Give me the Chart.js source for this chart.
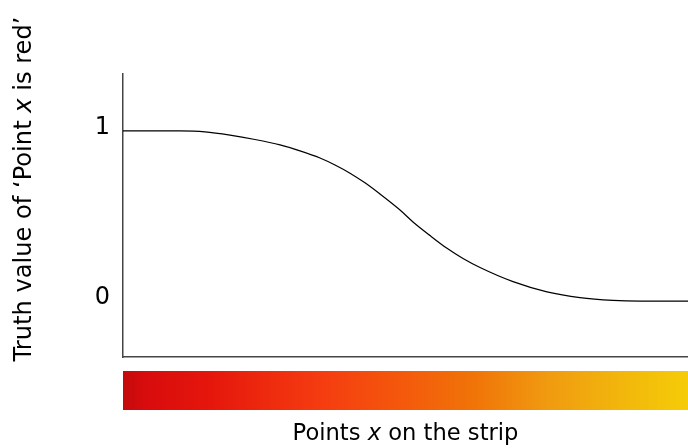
<!DOCTYPE html>
<html>
<head>
<meta charset="utf-8">
<script src="https://cdn.jsdelivr.net/npm/chart.js@4.4.0/dist/chart.umd.min.js"></script>
<style>
  html, body { margin: 0; padding: 0; background: #fff; }
  #wrap { width: 688px; height: 448px; position: relative; }
</style>
</head>
<body>
<div id="wrap"><canvas id="c" width="688" height="448"></canvas></div>
<script>
// Position along the strip (0 = left end, 100 = right end)
const stripPos = [0, 10.09, 14.51, 18.94, 23.36, 27.79, 31.33, 34.87, 37.52, 40.18, 42.83, 45.49, 49.03, 51.33, 54.34, 57.35, 60.18, 63.19, 69.03, 75.04, 80.88, 86.73, 91.5, 100];
// Truth value of 'Point x is red'
const truthValue = [1, 1, 0.995, 0.976, 0.95, 0.918, 0.883, 0.841, 0.80, 0.752, 0.695, 0.629, 0.535, 0.465, 0.385, 0.31, 0.25, 0.197, 0.114, 0.054, 0.02, 0.004, 0, 0];
// Tick labels on the y axis
const yTickValues = [0, 1];
const yTickLabels = ['0', '1'];
// Colour strip stops (fraction along strip, colour)
const stripStops = [0, 0.04, 0.15, 0.35, 0.5, 0.62, 0.75, 0.88, 1];
const stripColors = ['#c40a0c', '#d80c0c', '#e5160c', '#f53c10', '#f45a0c', '#f07408', '#f09a10', '#f2b60c', '#f5cc08'];
// Axis titles (segments: text, italic?)
const xTitle = [['Points ', false], ['x', true], [' on the strip', false]];
const yTitle = [['Truth value of \u2018Point ', false], ['x', true], [' is red\u2019', false]];

const FONT = '"DejaVu Sans", sans-serif';

function drawTitle(ctx, segs, size) {
  let total = 0;
  const widths = segs.map(([t, it]) => {
    ctx.font = (it ? 'italic ' : '') + size + 'px ' + FONT;
    const w = ctx.measureText(t).width; total += w; return w;
  });
  let x = -total / 2;
  segs.forEach(([t, it], i) => {
    ctx.font = (it ? 'italic ' : '') + size + 'px ' + FONT;
    ctx.fillText(t, x, 0);
    x += widths[i];
  });
  return total;
}
function fitSize(ctx, segs, target) {
  let total = 0;
  segs.forEach(([t, it]) => {
    ctx.font = (it ? 'italic ' : '') + '20px ' + FONT;
    total += ctx.measureText(t).width;
  });
  return 20 * target / total;
}

const decor = {
  id: 'decor',
  afterDraw(chart) {
    const ctx = chart.ctx;
    const xs = chart.scales.x;
    const left = xs.getPixelForValue(0), right = xs.getPixelForValue(100);
    // colour strip
    const g = ctx.createLinearGradient(left, 0, right, 0);
    stripStops.forEach((s, i) => g.addColorStop(s, stripColors[i]));
    ctx.save();
    ctx.fillStyle = g;
    ctx.fillRect(left, 371, right - left, 39);
    // titles
    ctx.fillStyle = '#000';
    ctx.textBaseline = 'alphabetic';
    ctx.textAlign = 'left';
    ctx.save();
    ctx.translate((left + right) / 2, 440);
    drawTitle(ctx, xTitle, fitSize(ctx, xTitle, 226));
    ctx.restore();
    ctx.save();
    ctx.translate(31, 189);
    ctx.rotate(-Math.PI / 2);
    drawTitle(ctx, yTitle, fitSize(ctx, yTitle, 345));
    ctx.restore();
    ctx.restore();
  }
};

new Chart(document.getElementById('c'), {
  type: 'line',
  data: {
    datasets: [{
      data: stripPos.map((x, i) => ({ x: x, y: truthValue[i] })),
      borderColor: '#000',
      borderWidth: 1.2,
      pointRadius: 0,
      fill: false,
      cubicInterpolationMode: 'monotone'
    }]
  },
  options: {
    responsive: false,
    animation: false,
    layout: { padding: { top: 74, right: 0, left: 0, bottom: 0 } },
    plugins: { legend: { display: false }, tooltip: { enabled: false } },
    scales: {
      x: {
        type: 'linear', min: 0, max: 100,
        grid: { display: false },
        border: { display: true, color: '#444', width: 1.5 },
        ticks: { display: false },
        afterFit(s) { s.height = 91; }
      },
      y: {
        type: 'linear', min: -0.329, max: 1.335,
        grid: { display: false },
        border: { display: true, color: '#444', width: 1.5 },
        afterBuildTicks(s) { s.ticks = yTickValues.map(v => ({ value: v })); },
        ticks: {
          padding: 5,
          labelOffset: -3,
          color: '#000',
          font: { family: 'DejaVu Sans', size: 24 },
          callback: (v) => yTickLabels[yTickValues.indexOf(v)]
        },
        afterFit(s) { s.width = 123; }
      }
    }
  },
  plugins: [decor]
});
</script>
</body>
</html>
